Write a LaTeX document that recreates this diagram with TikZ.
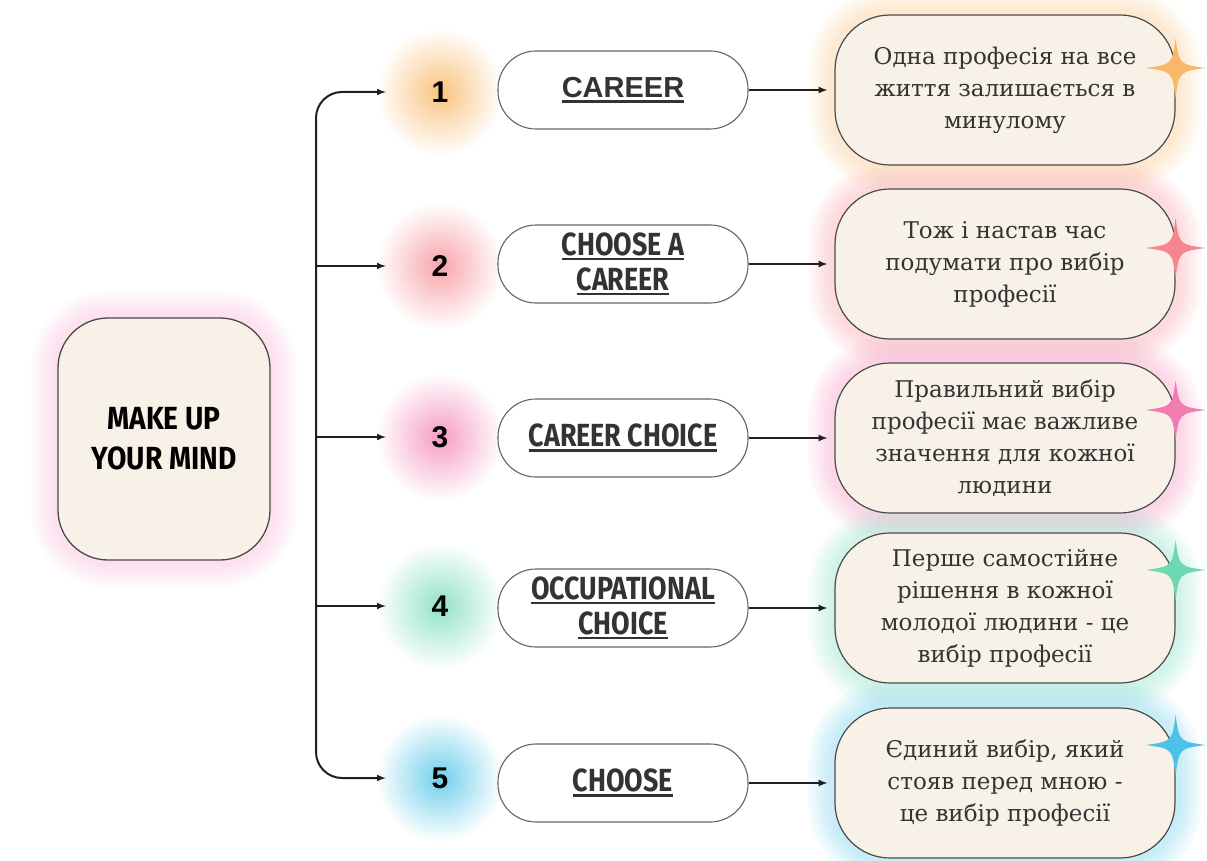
\documentclass[tikz,border=0pt]{standalone}
\usepackage{fontspec}
\setmainfont{DejaVu Serif}
\newfontfamily\headfont[FakeStretch=0.84]{Fira Sans}
\newfontfamily\ideafont[FakeStretch=0.88]{Fira Sans}
\newfontfamily\numfont{Liberation Sans}
\usetikzlibrary{backgrounds}

\definecolor{cream}{HTML}{F8F1E8}
\definecolor{edge}{HTML}{4A4A4A}
\definecolor{ink}{HTML}{333333}
\definecolor{glowA}{HTML}{F8B868}
\definecolor{glowB}{HTML}{F5868F}
\definecolor{glowC}{HTML}{F27BB0}
\definecolor{glowD}{HTML}{6ED8B5}
\definecolor{glowE}{HTML}{4CC3E6}
\definecolor{glowM}{HTML}{F59FCB}

% underline with a thick bar
\newcommand\ulined[1]{\sbox0{#1}\rlap{\usebox0}\rule[-5pt]{\wd0}{2.4pt}}
% soft halo round a node
\newcommand\glowbox[3]{%
  \foreach \w in {52,44,36,28,20,12}
    {\draw[#2, line width=\w pt, opacity=.06, rounded corners=#3]
      (#1.south west) rectangle (#1.north east);}}
% four point sparkle
\newcommand\sparkle[3]{%
  \fill[#3, shift={(#1)}] (0,-#2) .. controls (0.12*#2,-0.12*#2) .. (#2,0)
    .. controls (0.12*#2,0.12*#2) .. (0,#2)
    .. controls (-0.12*#2,0.12*#2) .. (-#2,0)
    .. controls (-0.12*#2,-0.12*#2) .. cycle;}

\begin{document}
\begin{tikzpicture}[x=1pt,y=-1pt,
   idea/.style={draw=edge, line width=1.3pt, fill=cream, rounded corners=50pt,
     minimum width=212pt, minimum height=242pt, align=center,
     font=\ideafont\bfseries\fontsize{32}{40}\selectfont},
   topic/.style={draw=edge!85, line width=1.1pt, fill=white, rounded corners=38pt,
     minimum width=250pt, minimum height=78pt, align=center, text=ink,
     font=\headfont\bfseries\fontsize{32}{35}\selectfont},
   note/.style={draw=edge, line width=1.2pt, fill=cream, rounded corners=55pt,
     minimum width=340pt, minimum height=150pt, align=center, text=ink,
     font=\fontsize{23}{32}\selectfont},
   num/.style={circle, minimum size=108pt, font=\numfont\bfseries\fontsize{30}{30}\selectfont},
   arr/.style={-latex, line width=2pt, draw=black!88}]
   \useasboundingbox (0,0) rectangle (1207,861);

   \node[idea] (mind) at (164,439) {MAKE UP\\YOUR MIND};

   \node[num] (n1) at (440,92) {1};
   \node[num] (n2) at (440,266) {2};
   \node[num] (n3) at (440,437) {3};
   \node[num] (n4) at (440,606) {4};
   \node[num] (n5) at (440,778) {5};

   \node[topic, font=\numfont\bfseries\fontsize{29}{30}\selectfont] (p1) at (623,90) {\ulined{CAREER}};
   \node[topic] (p2) at (623,264) {\ulined{CHOOSE A}\\\ulined{CAREER}};
   \node[topic] (p3) at (623,438) {\ulined{CAREER CHOICE}};
   \node[topic] (p4) at (623,608) {\ulined{OCCUPATIONAL}\\\ulined{CHOICE}};
   \node[topic] (p5) at (623,783) {\ulined{CHOOSE}};

   \node[note] (b1) at (1005,90) {Одна професія на все\\життя залишається в\\минулому};
   \node[note] (b2) at (1005,264) {Тож і настав час\\подумати про вибір\\професії};
   \node[note] (b3) at (1005,438) {Правильний вибір\\професії має важливе\\значення для кожної\\людини};
   \node[note] (b4) at (1005,608) {Перше самостійне\\рішення в кожної\\молодої людини - це\\вибір професії};
   \node[note] (b5) at (1005,783) {Єдиний вибір, який\\стояв перед мною -\\це вибір професії};

   \coordinate (trunk) at (316,437);
   \draw[arr, latex-latex, rounded corners=26pt] (n5.west) -- (trunk |- n5) -- (trunk |- n1) -- (n1.west);
   \draw[arr] (trunk |- n2) -- (n2.west);
   \draw[arr] (trunk |- n3) -- (n3.west);
   \draw[arr] (trunk |- n4) -- (n4.west);

   \draw[arr, shorten >=7pt] (p1.east) -- (b1.west);
   \draw[arr, shorten >=7pt] (p2.east) -- (b2.west);
   \draw[arr, shorten >=7pt] (p3.east) -- (b3.west);
   \draw[arr, shorten >=7pt] (p4.east) -- (b4.west);
   \draw[arr, shorten >=7pt] (p5.east) -- (b5.west);

   \sparkle{[yshift=22pt]b1.east}{30}{glowA}
   \sparkle{[yshift=16pt]b2.east}{30}{glowB}
   \sparkle{[yshift=28pt]b3.east}{30}{glowC}
   \sparkle{[yshift=38pt]b4.east}{30}{glowD}
   \sparkle{[yshift=38pt]b5.east}{30}{glowE}

   \begin{pgfonlayer}{background}
     \glowbox{mind}{glowM}{50pt}
     \glowbox{b1}{glowA}{55pt}
     \glowbox{b2}{glowB}{55pt}
     \glowbox{b3}{glowC}{55pt}
     \glowbox{b4}{glowD}{55pt}
     \glowbox{b5}{glowE}{55pt}
     \shade[inner color=glowA!85, outer color=white] (n1.center) circle (64);
     \shade[inner color=glowB!75, outer color=white] (n2.center) circle (64);
     \shade[inner color=glowC!75, outer color=white] (n3.center) circle (64);
     \shade[inner color=glowD!75, outer color=white] (n4.center) circle (64);
     \shade[inner color=glowE!80, outer color=white] (n5.center) circle (64);
   \end{pgfonlayer}
\end{tikzpicture}
\end{document}
